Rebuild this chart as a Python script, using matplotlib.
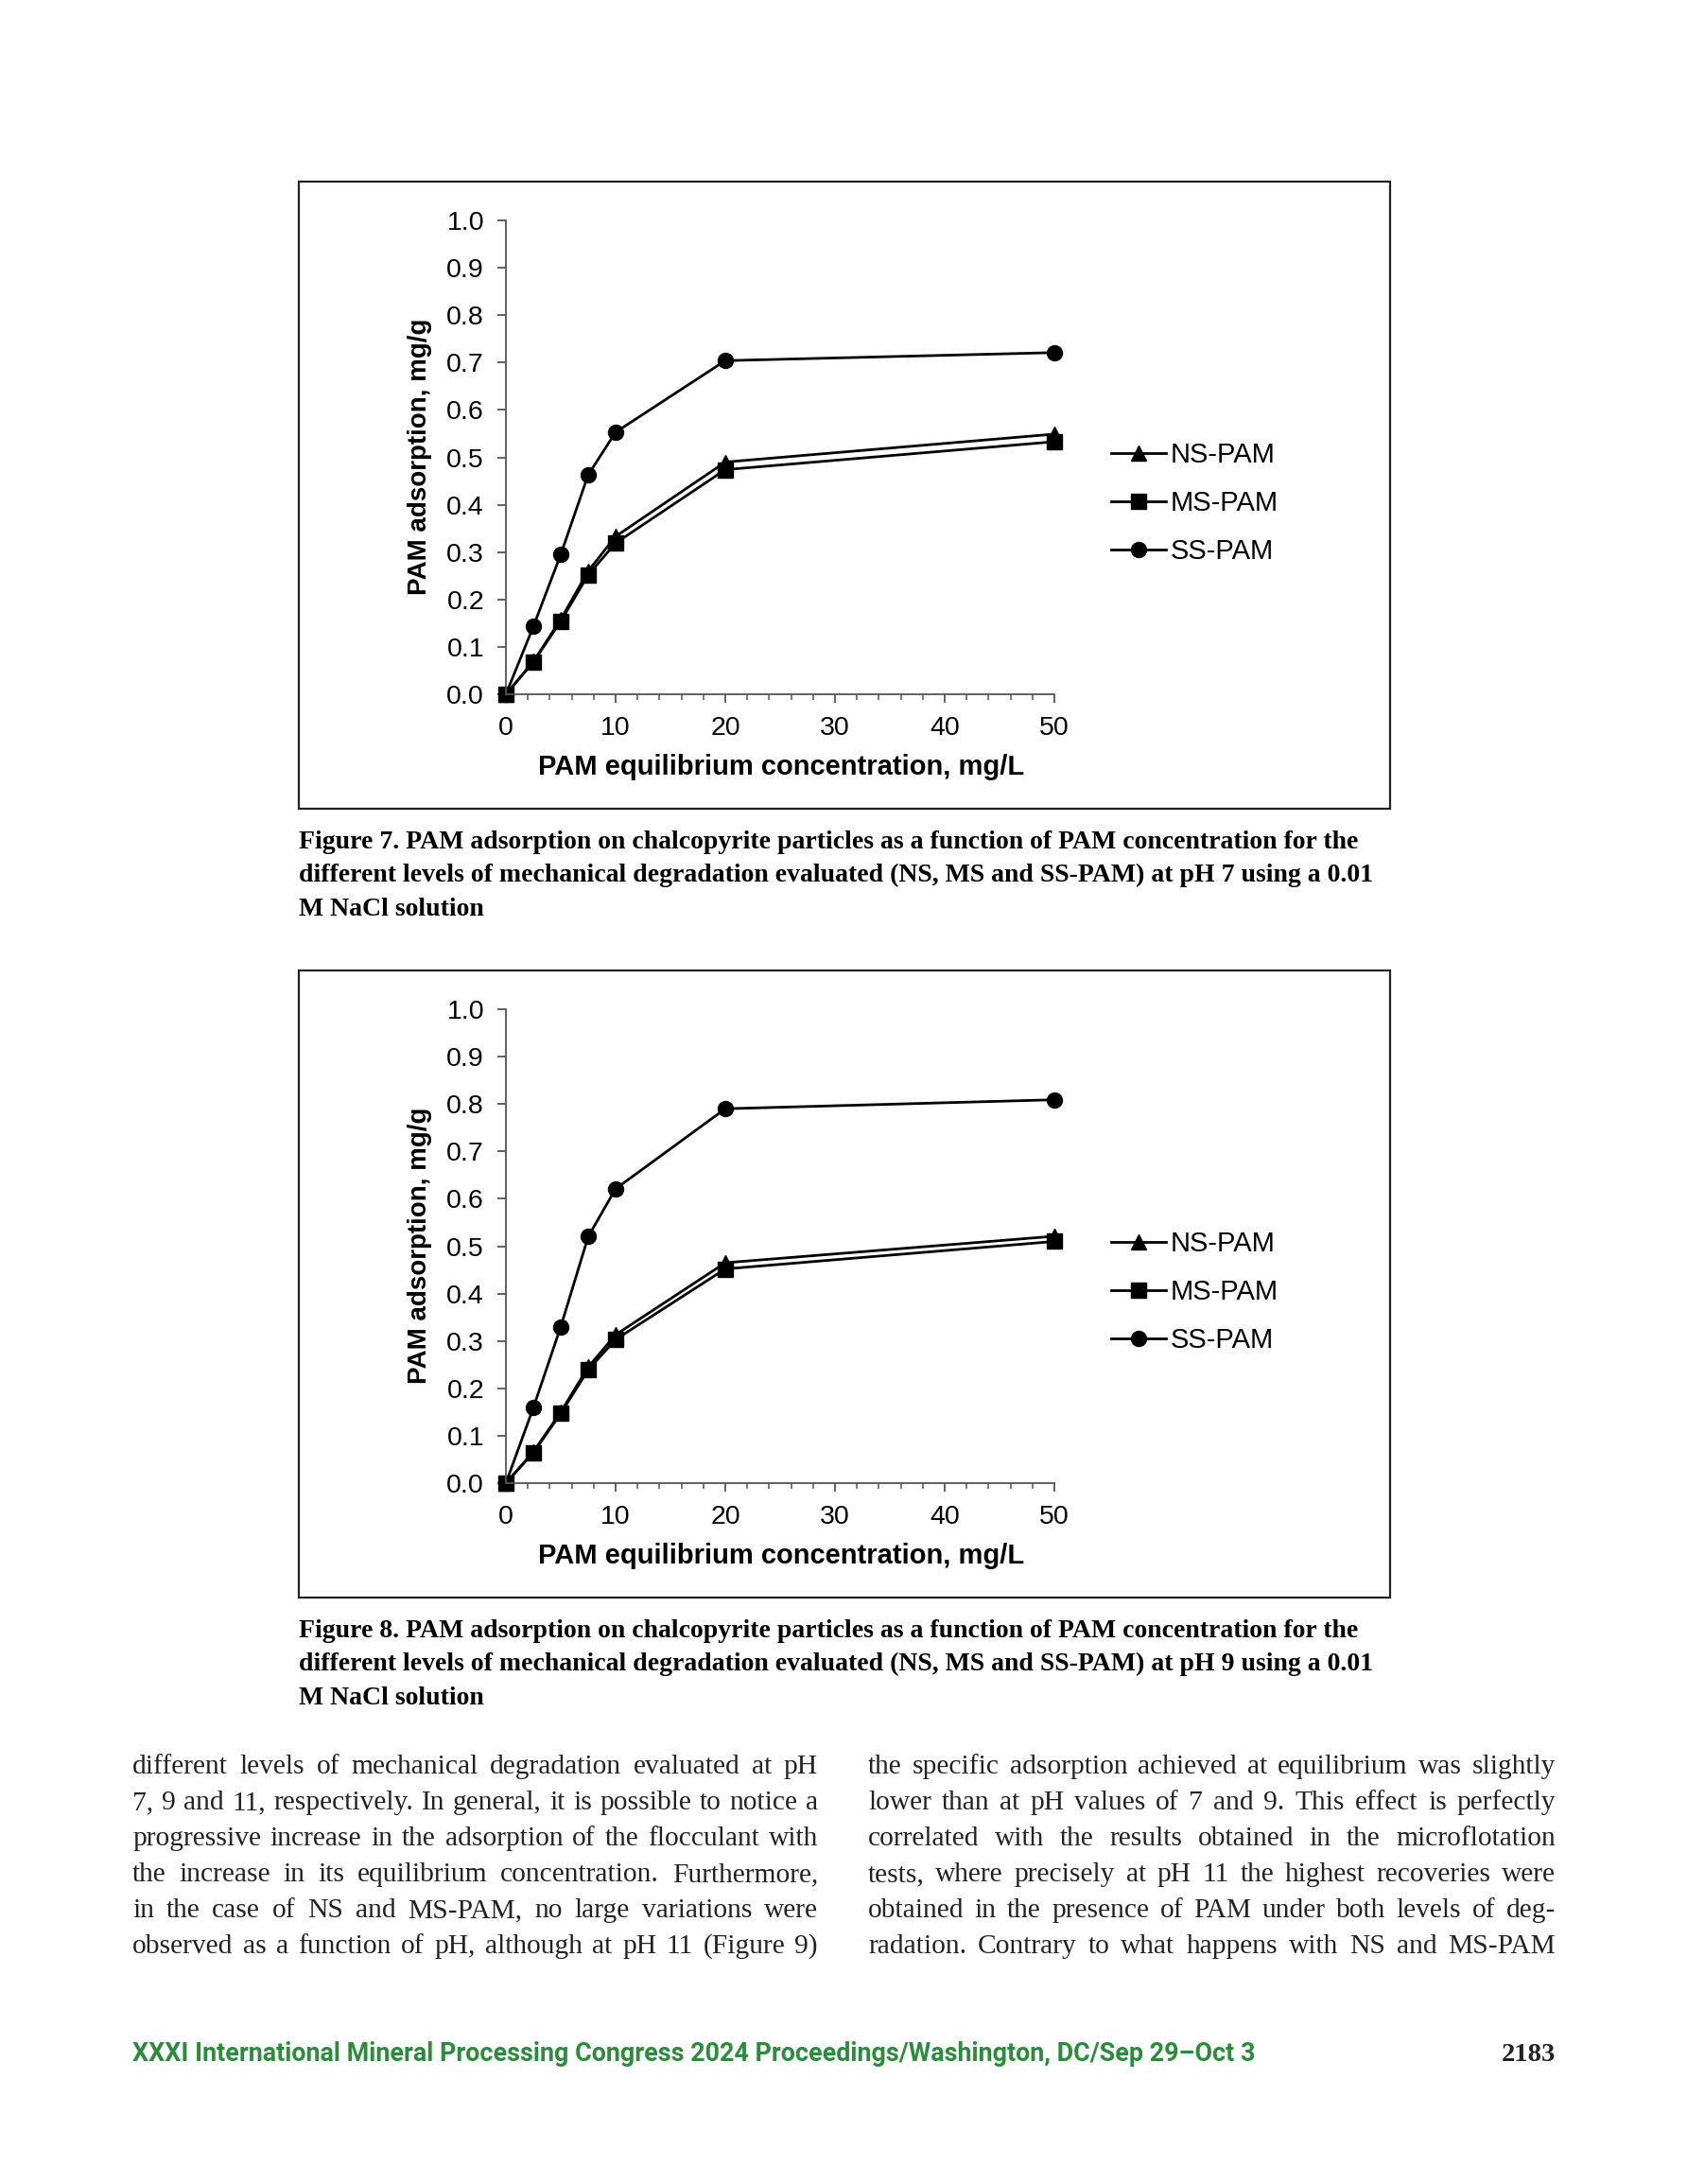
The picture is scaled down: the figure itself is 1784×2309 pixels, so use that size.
import numpy as np
import matplotlib
matplotlib.use("Agg")
import matplotlib.pyplot as plt
from matplotlib.patches import Rectangle
from matplotlib.ticker import MultipleLocator, FormatStrFormatter

W, H = 1784, 2309

# DATA
conc = [0, 2.5, 5, 7.5, 10, 20, 50]
ns_ph7 = [0, 0.069, 0.158, 0.260, 0.333, 0.490, 0.549]
ms_ph7 = [0, 0.068, 0.154, 0.252, 0.319, 0.474, 0.533]
ss_ph7 = [0, 0.143, 0.295, 0.463, 0.553, 0.704, 0.721]
ns_ph9 = [0, 0.066, 0.150, 0.245, 0.313, 0.465, 0.521]
ms_ph9 = [0, 0.064, 0.147, 0.239, 0.303, 0.452, 0.510]
ss_ph9 = [0, 0.159, 0.330, 0.520, 0.621, 0.790, 0.809]
series_names = ["NS-PAM", "MS-PAM", "SS-PAM"]
series_markers = ["^", "s", "o"]
y_ticks = [0.0, 0.1, 0.2, 0.3, 0.4, 0.5, 0.6, 0.7, 0.8, 0.9, 1.0]
x_ticks = [0, 10, 20, 30, 40, 50]

caption7 = ["Figure 7. PAM adsorption on chalcopyrite particles as a function of PAM concentration for the",
            "different levels of mechanical degradation evaluated (NS, MS and SS-PAM) at pH 7 using a 0.01",
            "M NaCl solution"]
caption8 = ["Figure 8. PAM adsorption on chalcopyrite particles as a function of PAM concentration for the",
            "different levels of mechanical degradation evaluated (NS, MS and SS-PAM) at pH 9 using a 0.01",
            "M NaCl solution"]
left_col = ["different levels of mechanical degradation evaluated at pH",
            "7, 9 and 11, respectively. In general, it is possible to notice a",
            "progressive increase in the adsorption of the flocculant with",
            "the increase in its equilibrium concentration. Furthermore,",
            "in the case of NS and MS-PAM, no large variations were",
            "observed as a function of pH, although at pH 11 (Figure 9)"]
right_col = ["the specific adsorption achieved at equilibrium was slightly",
             "lower than at pH values of 7 and 9. This effect is perfectly",
             "correlated with the results obtained in the microflotation",
             "tests, where precisely at pH 11 the highest recoveries were",
             "obtained in the presence of PAM under both levels of deg-",
             "radation. Contrary to what happens with NS and MS-PAM"]
footer = "XXXI International Mineral Processing Congress 2024 Proceedings/Washington, DC/Sep 29\u2013Oct 3"
page_no = "2183"

plt.rcParams['font.family'] = ['Liberation Sans', 'DejaVu Sans']
fig = plt.figure(figsize=(W / 100, H / 100), dpi=100)
fig.patch.set_facecolor("white")
renderer = fig.canvas.get_renderer()


def fx(x):
    return x / W


def fy(y):
    return 1 - y / H


def chart(off, ns, ms, ss):
    # frame around the chart
    fig.add_artist(Rectangle((fx(316), fy(855 + off)), fx(1470) - fx(316), fy(192) - fy(855),
                             transform=fig.transFigure, fill=False, lw=1.6, ec="#222222"))
    ax = fig.add_axes([fx(535), fy(734 + off), fx(1115) - fx(535), fy(233) - fy(734)])
    for vals, name, mk in zip([ns, ms, ss], series_names, series_markers):
        ax.plot(conc, vals, color="black", lw=2, marker=mk, ms=11.5, label=name, clip_on=False)
    ax.set_xlim(0, 50)
    ax.set_ylim(0, 1.0)
    ax.set_yticks(y_ticks)
    ax.set_xticks(x_ticks)
    ax.xaxis.set_minor_locator(MultipleLocator(2))
    ax.yaxis.set_major_formatter(FormatStrFormatter("%.1f"))
    for s in ["top", "right"]:
        ax.spines[s].set_visible(False)
    for s in ["left", "bottom"]:
        ax.spines[s].set_color("#555555")
        ax.spines[s].set_linewidth(1.3)
    ax.tick_params(which="major", length=6.5, width=1.3, color="#555555", labelsize=20.5, pad=10)
    ax.tick_params(which="minor", length=4.5, width=1.1, color="#555555")
    ax.set_facecolor("none")
    fig.text(fx(826), fy(811 + off), "PAM equilibrium concentration, mg/L", ha="center", va="center",
             fontsize=21, fontweight="bold")
    fig.text(fx(444), fy(483 + off), "PAM adsorption, mg/g", ha="center", va="center",
             rotation=90, fontsize=20, fontweight="bold")
    ax.legend(loc="center left", bbox_to_anchor=(fx(1175), fy(532 + off)), bbox_transform=fig.transFigure,
              frameon=False, fontsize=21, handlelength=2.0, handletextpad=0.15, labelspacing=0.78,
              borderpad=0, borderaxespad=0)
    return ax


chart(0, ns_ph7, ms_ph7, ss_ph7)
chart(834, ns_ph9, ms_ph9, ss_ph9)

serif = ['Liberation Serif', 'DejaVu Serif']
for i, line in enumerate(caption7):
    fig.text(fx(316), fy(897 + 35.5 * i), line, fontsize=20, fontweight="bold", family=serif, va="baseline")
for i, line in enumerate(caption8):
    fig.text(fx(316), fy(1731 + 35.5 * i), line, fontsize=20, fontweight="bold", family=serif, va="baseline")


# justified body text: pick the size so the widest line just fits its column
def natural_width(line, size):
    t = fig.text(0, 0, line, fontsize=size, family=serif)
    w = t.get_window_extent(renderer).width
    t.remove()
    return w


col_w = 725
base = 20
widest = max(natural_width(l, base) for l in left_col + right_col)
body_size = base * col_w * 0.985 / widest


def justify(line, x0, x1, ybase, size):
    words = line.split(" ")
    ts = [fig.text(0, fy(ybase), w, fontsize=size, family=serif, va="baseline", color="#222222")
          for w in words]
    widths = [t.get_window_extent(renderer).width for t in ts]
    gap = (x1 - x0 - sum(widths)) / (len(words) - 1)
    x = x0
    for t, w in zip(ts, widths):
        t.set_x(fx(x))
        x += w + gap


for i, line in enumerate(left_col):
    justify(line, 140, 865, 1875 + 38 * i, body_size)
for i, line in enumerate(right_col):
    justify(line, 918, 1645, 1875 + 38 * i, body_size)

fig.text(fx(140), fy(2179), footer, fontsize=19.4, fontweight="bold", family=["Roboto", "DejaVu Sans"],
         color="#2b8c3c", va="baseline")
fig.text(fx(1645), fy(2179), page_no, fontsize=20.5, fontweight="bold", family=serif,
         color="#222222", va="baseline", ha="right")

fig.savefig("out.png", dpi=100)
